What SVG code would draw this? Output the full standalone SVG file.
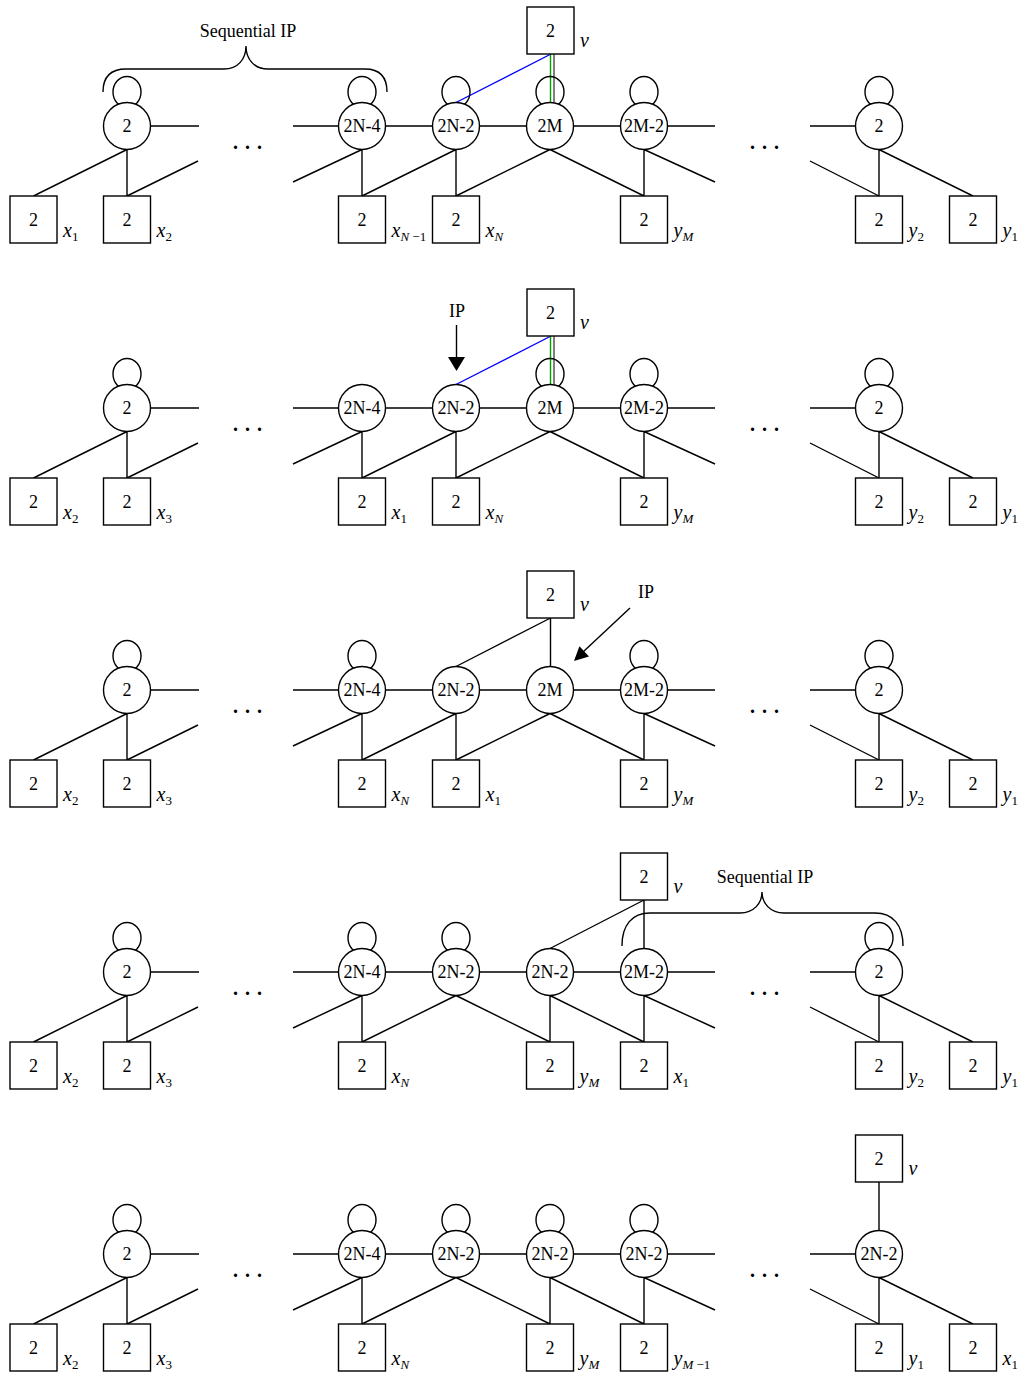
<svg xmlns="http://www.w3.org/2000/svg" width="1023" height="1374" viewBox="0 0 1023 1374">
<style>
text{font-family:"Liberation Serif","Times New Roman",serif;fill:#000}
.t{font-size:18px;text-anchor:middle}
.lb{font-size:20px}
.i{font-style:italic}
.s{font-size:13px}
.dots{font-size:20px;font-weight:bold;letter-spacing:7px}
.e path{fill:none;stroke:#000;stroke-width:1.4}
circle{fill:#fff;stroke:#000;stroke-width:1.4}
rect{fill:#fff;stroke:#000;stroke-width:1.4}
.loop{fill:none;stroke:#000;stroke-width:1.4}
.brace{fill:none;stroke:#000;stroke-width:1.4}
.blue{stroke:#0000ff!important}
.green{stroke:#00a000!important}
</style>
<defs>
<ellipse id="lp" class="loop" cx="0" cy="92" rx="14" ry="15.5"/>
</defs>
<rect x="0" y="0" width="1023" height="1374" style="fill:#fff;stroke:none"/>

<!-- ROW 1 -->
<g id="row1">
<g class="e" id="row1-edges">
<path d="M127,149.5 L33.5,196 M127,149.5 V196 M127,196 L198,161 M150.5,126 H199 M293,126 H338.5 M293,182 L362,149.5 M362,149.5 V196 M810,126 H855.5 M810,161 L879,196 M879,149.5 V196 M879,149.5 L973,196 M385.5,126 H432.5 M479.5,126 H526.5 M573.5,126 H620.5 M667.5,126 H715 M456,149.5 L362,196 M456,149.5 V196 M550,149.5 L456,196 M550,149.5 L644,196 M644,149.5 V196 M644,149.5 L715,182"/>
<path class="blue" d="M551,54 L456,102.5"/>
<path class="green" d="M550.5,54 V102.5"/>
<path d="M554,54 V102.5" style="stroke-width:1"/>
</g>
<path class="brace" d="M103,92 C103,77 111,69 126,69 L224,69 C238,69 246,59 246,46 C246,59 254,69 268,69 L365,69 C380,69 387,77 387,92"/>
<text class="t" x="248" y="37">Sequential IP</text>
<text class="dots" x="233" y="149">...</text>
<text class="dots" x="750" y="149">...</text>
<g id="r1-c1"><use href="#lp" x="127"/><circle cx="127" cy="126" r="23.5"/><text class="t" x="127" y="132">2</text></g>
<g id="r1-c2"><use href="#lp" x="362"/><circle cx="362" cy="126" r="23.5"/><text class="t" x="362" y="132">2N-4</text></g>
<g id="r1-c3"><use href="#lp" x="456"/><circle cx="456" cy="126" r="23.5"/><text class="t" x="456" y="132">2N-2</text></g>
<g id="r1-c4"><use href="#lp" x="550"/><circle cx="550" cy="126" r="23.5"/><text class="t" x="550" y="132">2M</text></g>
<g id="r1-c5"><use href="#lp" x="644"/><circle cx="644" cy="126" r="23.5"/><text class="t" x="644" y="132">2M-2</text></g>
<g id="r1-c6"><use href="#lp" x="879"/><circle cx="879" cy="126" r="23.5"/><text class="t" x="879" y="132">2</text></g>
<g id="r1-v"><rect x="527" y="7" width="47" height="47"/><text class="t" x="550.5" y="37">2</text><text class="lb i" x="580" y="47">v</text></g>
<g id="r1-s1"><rect x="10" y="196" width="47" height="47"/><text class="t" x="33.5" y="226">2</text><text class="lb" x="63" y="237"><tspan class="i">x</tspan><tspan class="s" dy="4">1</tspan></text></g>
<g id="r1-s2"><rect x="103.5" y="196" width="47" height="47"/><text class="t" x="127" y="226">2</text><text class="lb" x="156.5" y="237"><tspan class="i">x</tspan><tspan class="s" dy="4">2</tspan></text></g>
<g id="r1-s3"><rect x="338.5" y="196" width="47" height="47"/><text class="t" x="362" y="226">2</text><text class="lb" x="391.5" y="237"><tspan class="i">x</tspan><tspan class="s" dy="4"><tspan class="i">N</tspan> −1</tspan></text></g>
<g id="r1-s4"><rect x="432.5" y="196" width="47" height="47"/><text class="t" x="456" y="226">2</text><text class="lb" x="485.5" y="237"><tspan class="i">x</tspan><tspan class="s i" dy="4">N</tspan></text></g>
<g id="r1-s5"><rect x="620.5" y="196" width="47" height="47"/><text class="t" x="644" y="226">2</text><text class="lb" x="673.5" y="237"><tspan class="i">y</tspan><tspan class="s i" dy="4">M</tspan></text></g>
<g id="r1-s6"><rect x="855.5" y="196" width="47" height="47"/><text class="t" x="879" y="226">2</text><text class="lb" x="908.5" y="237"><tspan class="i">y</tspan><tspan class="s" dy="4">2</tspan></text></g>
<g id="r1-s7"><rect x="949.5" y="196" width="47" height="47"/><text class="t" x="973" y="226">2</text><text class="lb" x="1002.5" y="237"><tspan class="i">y</tspan><tspan class="s" dy="4">1</tspan></text></g>
</g>

<!-- ROW 2 -->
<g id="row2" transform="translate(0,282)">
<g class="e" id="row2-edges">
<path d="M127,149.5 L33.5,196 M127,149.5 V196 M127,196 L198,161 M150.5,126 H199 M293,126 H338.5 M293,182 L362,149.5 M362,149.5 V196 M810,126 H855.5 M810,161 L879,196 M879,149.5 V196 M879,149.5 L973,196 M385.5,126 H432.5 M479.5,126 H526.5 M573.5,126 H620.5 M667.5,126 H715 M456,149.5 L362,196 M456,149.5 V196 M550,149.5 L456,196 M550,149.5 L644,196 M644,149.5 V196 M644,149.5 L715,182"/>
<path class="blue" d="M551,54 L456,102.5"/>
<path class="green" d="M550.5,54 V102.5"/>
<path d="M554,54 V102.5" style="stroke-width:1"/>
<path d="M456.5,43 V76"/>
</g>
<polygon points="448,75 465,75 456.5,89" fill="#000"/>
<text class="t" x="457" y="35">IP</text>
<text class="dots" x="233" y="149">...</text>
<text class="dots" x="750" y="149">...</text>
<g id="r2-c1"><use href="#lp" x="127"/><circle cx="127" cy="126" r="23.5"/><text class="t" x="127" y="132">2</text></g>
<g id="r2-c2"><circle cx="362" cy="126" r="23.5"/><text class="t" x="362" y="132">2N-4</text></g>
<g id="r2-c3"><circle cx="456" cy="126" r="23.5"/><text class="t" x="456" y="132">2N-2</text></g>
<g id="r2-c4"><use href="#lp" x="550"/><circle cx="550" cy="126" r="23.5"/><text class="t" x="550" y="132">2M</text></g>
<g id="r2-c5"><use href="#lp" x="644"/><circle cx="644" cy="126" r="23.5"/><text class="t" x="644" y="132">2M-2</text></g>
<g id="r2-c6"><use href="#lp" x="879"/><circle cx="879" cy="126" r="23.5"/><text class="t" x="879" y="132">2</text></g>
<g id="r2-v"><rect x="527" y="7" width="47" height="47"/><text class="t" x="550.5" y="37">2</text><text class="lb i" x="580" y="47">v</text></g>
<g id="r2-s1"><rect x="10" y="196" width="47" height="47"/><text class="t" x="33.5" y="226">2</text><text class="lb" x="63" y="237"><tspan class="i">x</tspan><tspan class="s" dy="4">2</tspan></text></g>
<g id="r2-s2"><rect x="103.5" y="196" width="47" height="47"/><text class="t" x="127" y="226">2</text><text class="lb" x="156.5" y="237"><tspan class="i">x</tspan><tspan class="s" dy="4">3</tspan></text></g>
<g id="r2-s3"><rect x="338.5" y="196" width="47" height="47"/><text class="t" x="362" y="226">2</text><text class="lb" x="391.5" y="237"><tspan class="i">x</tspan><tspan class="s" dy="4">1</tspan></text></g>
<g id="r2-s4"><rect x="432.5" y="196" width="47" height="47"/><text class="t" x="456" y="226">2</text><text class="lb" x="485.5" y="237"><tspan class="i">x</tspan><tspan class="s i" dy="4">N</tspan></text></g>
<g id="r2-s5"><rect x="620.5" y="196" width="47" height="47"/><text class="t" x="644" y="226">2</text><text class="lb" x="673.5" y="237"><tspan class="i">y</tspan><tspan class="s i" dy="4">M</tspan></text></g>
<g id="r2-s6"><rect x="855.5" y="196" width="47" height="47"/><text class="t" x="879" y="226">2</text><text class="lb" x="908.5" y="237"><tspan class="i">y</tspan><tspan class="s" dy="4">2</tspan></text></g>
<g id="r2-s7"><rect x="949.5" y="196" width="47" height="47"/><text class="t" x="973" y="226">2</text><text class="lb" x="1002.5" y="237"><tspan class="i">y</tspan><tspan class="s" dy="4">1</tspan></text></g>
</g>

<!-- ROW 3 -->
<g id="row3" transform="translate(0,564)">
<g class="e" id="row3-edges">
<path d="M127,149.5 L33.5,196 M127,149.5 V196 M127,196 L198,161 M150.5,126 H199 M293,126 H338.5 M293,182 L362,149.5 M362,149.5 V196 M810,126 H855.5 M810,161 L879,196 M879,149.5 V196 M879,149.5 L973,196 M385.5,126 H432.5 M479.5,126 H526.5 M573.5,126 H620.5 M667.5,126 H715 M456,149.5 L362,196 M456,149.5 V196 M550,149.5 L456,196 M550,149.5 L644,196 M644,149.5 V196 M644,149.5 L715,182"/>
<path d="M550.5,54 V102.5 M550.5,54 L456,102.5"/>
<path d="M630,44 L583,88"/>
</g>
<polygon points="574,97 579.4,82.3 589,92.5" fill="#000"/>
<text class="t" x="646" y="34">IP</text>
<text class="dots" x="233" y="149">...</text>
<text class="dots" x="750" y="149">...</text>
<g id="r3-c1"><use href="#lp" x="127"/><circle cx="127" cy="126" r="23.5"/><text class="t" x="127" y="132">2</text></g>
<g id="r3-c2"><use href="#lp" x="362"/><circle cx="362" cy="126" r="23.5"/><text class="t" x="362" y="132">2N-4</text></g>
<g id="r3-c3"><circle cx="456" cy="126" r="23.5"/><text class="t" x="456" y="132">2N-2</text></g>
<g id="r3-c4"><circle cx="550" cy="126" r="23.5"/><text class="t" x="550" y="132">2M</text></g>
<g id="r3-c5"><use href="#lp" x="644"/><circle cx="644" cy="126" r="23.5"/><text class="t" x="644" y="132">2M-2</text></g>
<g id="r3-c6"><use href="#lp" x="879"/><circle cx="879" cy="126" r="23.5"/><text class="t" x="879" y="132">2</text></g>
<g id="r3-v"><rect x="527" y="7" width="47" height="47"/><text class="t" x="550.5" y="37">2</text><text class="lb i" x="580" y="47">v</text></g>
<g id="r3-s1"><rect x="10" y="196" width="47" height="47"/><text class="t" x="33.5" y="226">2</text><text class="lb" x="63" y="237"><tspan class="i">x</tspan><tspan class="s" dy="4">2</tspan></text></g>
<g id="r3-s2"><rect x="103.5" y="196" width="47" height="47"/><text class="t" x="127" y="226">2</text><text class="lb" x="156.5" y="237"><tspan class="i">x</tspan><tspan class="s" dy="4">3</tspan></text></g>
<g id="r3-s3"><rect x="338.5" y="196" width="47" height="47"/><text class="t" x="362" y="226">2</text><text class="lb" x="391.5" y="237"><tspan class="i">x</tspan><tspan class="s i" dy="4">N</tspan></text></g>
<g id="r3-s4"><rect x="432.5" y="196" width="47" height="47"/><text class="t" x="456" y="226">2</text><text class="lb" x="485.5" y="237"><tspan class="i">x</tspan><tspan class="s" dy="4">1</tspan></text></g>
<g id="r3-s5"><rect x="620.5" y="196" width="47" height="47"/><text class="t" x="644" y="226">2</text><text class="lb" x="673.5" y="237"><tspan class="i">y</tspan><tspan class="s i" dy="4">M</tspan></text></g>
<g id="r3-s6"><rect x="855.5" y="196" width="47" height="47"/><text class="t" x="879" y="226">2</text><text class="lb" x="908.5" y="237"><tspan class="i">y</tspan><tspan class="s" dy="4">2</tspan></text></g>
<g id="r3-s7"><rect x="949.5" y="196" width="47" height="47"/><text class="t" x="973" y="226">2</text><text class="lb" x="1002.5" y="237"><tspan class="i">y</tspan><tspan class="s" dy="4">1</tspan></text></g>
</g>

<!-- ROW 4 -->
<g id="row4" transform="translate(0,846)">
<g class="e" id="row4-edges">
<path d="M127,149.5 L33.5,196 M127,149.5 V196 M127,196 L198,161 M150.5,126 H199 M293,126 H338.5 M293,182 L362,149.5 M362,149.5 V196 M810,126 H855.5 M810,161 L879,196 M879,149.5 V196 M879,149.5 L973,196 M385.5,126 H432.5 M479.5,126 H526.5 M573.5,126 H620.5 M667.5,126 H715 M456,149.5 L362,196 M456,149.5 L550,196 M550,149.5 V196 M550,149.5 L644,196 M644,149.5 V196 M644,149.5 L715,182"/>
<path d="M644,54 V102.5 M644,54 L550,102.5"/>
</g>
<path class="brace" d="M622,100 C622,79 632,67 650,67 L740,67 C754,67 762,57 762,46 C762,57 770,67 784,67 L875,67 C893,67 903,79 903,100"/>
<text class="t" x="765" y="37">Sequential IP</text>
<text class="dots" x="233" y="149">...</text>
<text class="dots" x="750" y="149">...</text>
<g id="r4-c1"><use href="#lp" x="127"/><circle cx="127" cy="126" r="23.5"/><text class="t" x="127" y="132">2</text></g>
<g id="r4-c2"><use href="#lp" x="362"/><circle cx="362" cy="126" r="23.5"/><text class="t" x="362" y="132">2N-4</text></g>
<g id="r4-c3"><use href="#lp" x="456"/><circle cx="456" cy="126" r="23.5"/><text class="t" x="456" y="132">2N-2</text></g>
<g id="r4-c4"><circle cx="550" cy="126" r="23.5"/><text class="t" x="550" y="132">2N-2</text></g>
<g id="r4-c5"><circle cx="644" cy="126" r="23.5"/><text class="t" x="644" y="132">2M-2</text></g>
<g id="r4-c6"><use href="#lp" x="879"/><circle cx="879" cy="126" r="23.5"/><text class="t" x="879" y="132">2</text></g>
<g id="r4-v"><rect x="620.5" y="7" width="47" height="47"/><text class="t" x="644" y="37">2</text><text class="lb i" x="673.5" y="47">v</text></g>
<g id="r4-s1"><rect x="10" y="196" width="47" height="47"/><text class="t" x="33.5" y="226">2</text><text class="lb" x="63" y="237"><tspan class="i">x</tspan><tspan class="s" dy="4">2</tspan></text></g>
<g id="r4-s2"><rect x="103.5" y="196" width="47" height="47"/><text class="t" x="127" y="226">2</text><text class="lb" x="156.5" y="237"><tspan class="i">x</tspan><tspan class="s" dy="4">3</tspan></text></g>
<g id="r4-s3"><rect x="338.5" y="196" width="47" height="47"/><text class="t" x="362" y="226">2</text><text class="lb" x="391.5" y="237"><tspan class="i">x</tspan><tspan class="s i" dy="4">N</tspan></text></g>
<g id="r4-s4"><rect x="526.5" y="196" width="47" height="47"/><text class="t" x="550" y="226">2</text><text class="lb" x="579.5" y="237"><tspan class="i">y</tspan><tspan class="s i" dy="4">M</tspan></text></g>
<g id="r4-s5"><rect x="620.5" y="196" width="47" height="47"/><text class="t" x="644" y="226">2</text><text class="lb" x="673.5" y="237"><tspan class="i">x</tspan><tspan class="s" dy="4">1</tspan></text></g>
<g id="r4-s6"><rect x="855.5" y="196" width="47" height="47"/><text class="t" x="879" y="226">2</text><text class="lb" x="908.5" y="237"><tspan class="i">y</tspan><tspan class="s" dy="4">2</tspan></text></g>
<g id="r4-s7"><rect x="949.5" y="196" width="47" height="47"/><text class="t" x="973" y="226">2</text><text class="lb" x="1002.5" y="237"><tspan class="i">y</tspan><tspan class="s" dy="4">1</tspan></text></g>
</g>

<!-- ROW 5 -->
<g id="row5" transform="translate(0,1128)">
<g class="e" id="row5-edges">
<path d="M127,149.5 L33.5,196 M127,149.5 V196 M127,196 L198,161 M150.5,126 H199 M293,126 H338.5 M293,182 L362,149.5 M362,149.5 V196 M810,126 H855.5 M810,161 L879,196 M879,149.5 V196 M879,149.5 L973,196 M385.5,126 H432.5 M479.5,126 H526.5 M573.5,126 H620.5 M667.5,126 H715 M456,149.5 L362,196 M456,149.5 L550,196 M550,149.5 V196 M550,149.5 L644,196 M644,149.5 V196 M644,149.5 L715,182"/>
<path d="M879,54 V102.5"/>
</g>
<text class="dots" x="233" y="149">...</text>
<text class="dots" x="750" y="149">...</text>
<g id="r5-c1"><use href="#lp" x="127"/><circle cx="127" cy="126" r="23.5"/><text class="t" x="127" y="132">2</text></g>
<g id="r5-c2"><use href="#lp" x="362"/><circle cx="362" cy="126" r="23.5"/><text class="t" x="362" y="132">2N-4</text></g>
<g id="r5-c3"><use href="#lp" x="456"/><circle cx="456" cy="126" r="23.5"/><text class="t" x="456" y="132">2N-2</text></g>
<g id="r5-c4"><use href="#lp" x="550"/><circle cx="550" cy="126" r="23.5"/><text class="t" x="550" y="132">2N-2</text></g>
<g id="r5-c5"><use href="#lp" x="644"/><circle cx="644" cy="126" r="23.5"/><text class="t" x="644" y="132">2N-2</text></g>
<g id="r5-c6"><circle cx="879" cy="126" r="23.5"/><text class="t" x="879" y="132">2N-2</text></g>
<g id="r5-v"><rect x="855.5" y="7" width="47" height="47"/><text class="t" x="879" y="37">2</text><text class="lb i" x="908.5" y="47">v</text></g>
<g id="r5-s1"><rect x="10" y="196" width="47" height="47"/><text class="t" x="33.5" y="226">2</text><text class="lb" x="63" y="237"><tspan class="i">x</tspan><tspan class="s" dy="4">2</tspan></text></g>
<g id="r5-s2"><rect x="103.5" y="196" width="47" height="47"/><text class="t" x="127" y="226">2</text><text class="lb" x="156.5" y="237"><tspan class="i">x</tspan><tspan class="s" dy="4">3</tspan></text></g>
<g id="r5-s3"><rect x="338.5" y="196" width="47" height="47"/><text class="t" x="362" y="226">2</text><text class="lb" x="391.5" y="237"><tspan class="i">x</tspan><tspan class="s i" dy="4">N</tspan></text></g>
<g id="r5-s4"><rect x="526.5" y="196" width="47" height="47"/><text class="t" x="550" y="226">2</text><text class="lb" x="579.5" y="237"><tspan class="i">y</tspan><tspan class="s i" dy="4">M</tspan></text></g>
<g id="r5-s5"><rect x="620.5" y="196" width="47" height="47"/><text class="t" x="644" y="226">2</text><text class="lb" x="673.5" y="237"><tspan class="i">y</tspan><tspan class="s" dy="4"><tspan class="i">M</tspan> −1</tspan></text></g>
<g id="r5-s6"><rect x="855.5" y="196" width="47" height="47"/><text class="t" x="879" y="226">2</text><text class="lb" x="908.5" y="237"><tspan class="i">y</tspan><tspan class="s" dy="4">1</tspan></text></g>
<g id="r5-s7"><rect x="949.5" y="196" width="47" height="47"/><text class="t" x="973" y="226">2</text><text class="lb" x="1002.5" y="237"><tspan class="i">x</tspan><tspan class="s" dy="4">1</tspan></text></g>
</g>
</svg>
